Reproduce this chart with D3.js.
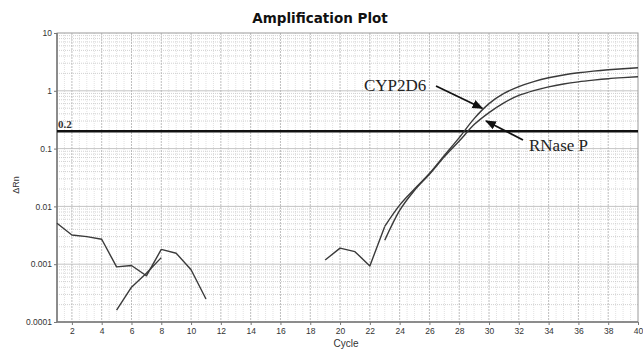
<!DOCTYPE html>
<html>
<head>
<meta charset="utf-8">
<script src="https://cdn.jsdelivr.net/npm/d3@7"></script>
<style>
  body { margin: 0; background: #fff; }
  svg { display: block; }
</style>
</head>
<body>
<svg id="chart" width="643" height="350"></svg>
<script>
// cycle numbers and delta Rn readings
var noiseCycles = [1, 2, 3, 4, 5, 6, 7, 8, 9, 10, 11],
    noiseVals = [0.0051, 0.0032, 0.003, 0.0027, 0.0009, 0.00095, 0.00063, 0.0018, 0.00155, 0.0008, 0.00025],
    noise2Cycles = [5, 6, 7, 8],
    noise2Vals = [0.00016, 0.0004, 0.0007, 0.0013],
    cypNoiseCycles = [19, 20, 21, 22, 23],
    cypNoiseVals = [0.00118, 0.0019, 0.00165, 0.00093, 0.0045],
    cypCycles = [23, 24, 25, 26, 27, 28, 29, 30, 31, 32, 33, 34, 35, 36, 37, 38, 39, 40],
    cypVals = [0.0045, 0.0105, 0.02, 0.037, 0.076, 0.155, 0.33, 0.6, 0.9, 1.18, 1.44, 1.68,
               1.88, 2.05, 2.19, 2.31, 2.41, 2.5],
    rnpCycles = [23, 24, 25, 26, 27, 28, 29, 30, 31, 32, 33, 34, 35, 36, 37, 38, 39, 40],
    rnpVals = [0.0026, 0.0085, 0.019, 0.036, 0.072, 0.135, 0.26, 0.42, 0.62, 0.83, 1.01, 1.17,
               1.31, 1.43, 1.53, 1.62, 1.69, 1.75],
    threshold = 0.2,
    xTicks = d3.range(2, 41, 2),
    yTicks = [10, 1, 0.1, 0.01, 0.001, 0.0001],
    yTickLabels = ["10", "1", "0.1", "0.01", "0.001", "0.0001"];

// note: "top" is taken by window.top, so plot edges get a p prefix
var svg = d3.select("#chart"),
    pLeft = 57, pRight = 638, pTop = 33, pBottom = 322;

var x = d3.scaleLinear().domain([1, 40]).range([pLeft, pRight]),
    y = d3.scaleLog().domain([0.0001, 10]).range([pBottom, pTop]);

var grid = svg.append("g");

// minor vertical grid
grid.selectAll(".vmin")
    .data(d3.range(1.5, 40, 0.5).filter(function (d) { return d % 2 != 0; }))
    .enter().append("line")
    .attr("x1", function (d) { return x(d); }).attr("x2", function (d) { return x(d); })
    .attr("y1", pTop).attr("y2", pBottom)
    .attr("stroke", "#d6d6d6").attr("stroke-width", 0.7).attr("stroke-dasharray", "1,1");

// minor horizontal grid (log 2..9 of each decade)
var minorY = [];
[-4, -3, -2, -1, 0].forEach(function (e) {
    for (var m = 2; m <= 9; m++) minorY.push(m * Math.pow(10, e));
});
grid.selectAll(".hmin")
    .data(minorY)
    .enter().append("line")
    .attr("x1", pLeft).attr("x2", pRight)
    .attr("y1", function (d) { return y(d); }).attr("y2", function (d) { return y(d); })
    .attr("stroke", "#bdbdbd").attr("stroke-width", 0.7).attr("stroke-dasharray", "1,1");

// major vertical grid every 2 cycles
grid.selectAll(".vmaj")
    .data(xTicks.filter(function (d) { return d < 40; }))
    .enter().append("line")
    .attr("x1", function (d) { return x(d); }).attr("x2", function (d) { return x(d); })
    .attr("y1", pTop).attr("y2", pBottom)
    .attr("stroke", "#adadad").attr("stroke-width", 0.8).attr("stroke-dasharray", "2,1");

// decade lines
grid.selectAll(".hmaj")
    .data(yTicks.slice(1, 5))
    .enter().append("line")
    .attr("x1", pLeft).attr("x2", pRight)
    .attr("y1", function (d) { return y(d); }).attr("y2", function (d) { return y(d); })
    .attr("stroke", "#b5b5b5").attr("stroke-width", 0.8);

// frame
svg.append("rect")
    .attr("x", pLeft).attr("y", pTop)
    .attr("width", pRight - pLeft).attr("height", pBottom - pTop)
    .attr("fill", "none").attr("stroke", "#9a9a9a").attr("stroke-width", 1);
svg.append("line")
    .attr("x1", pLeft).attr("x2", pLeft).attr("y1", pTop).attr("y2", pBottom)
    .attr("stroke", "#777").attr("stroke-width", 1.5);
svg.append("line")
    .attr("x1", pLeft).attr("x2", pRight).attr("y1", pBottom).attr("y2", pBottom)
    .attr("stroke", "#777").attr("stroke-width", 1.5);

// axes
var xAxis = svg.append("g")
    .attr("transform", "translate(0," + pBottom + ")")
    .call(d3.axisBottom(x).tickValues(xTicks).tickSize(3).tickPadding(3));
var yAxis = svg.append("g")
    .attr("transform", "translate(" + pLeft + ",0)")
    .call(d3.axisLeft(y).tickValues(yTicks).tickSize(3).tickPadding(2)
        .tickFormat(function (d, i) { return yTickLabels[i]; }));
[xAxis, yAxis].forEach(function (a) {
    a.select(".domain").remove();
    a.selectAll("line").attr("stroke", "#777");
    a.selectAll("text")
        .attr("fill", "#333")
        .style("font-family", "'Liberation Sans', Arial, sans-serif")
        .style("font-size", "8.5px");
});

// threshold
svg.append("line")
    .attr("x1", pLeft).attr("x2", pRight)
    .attr("y1", y(threshold)).attr("y2", y(threshold))
    .attr("stroke", "#111").attr("stroke-width", 2.6);
svg.append("text")
    .attr("x", pLeft + 1).attr("y", y(threshold) - 3)
    .style("font-family", "'Liberation Serif', 'Times New Roman', serif")
    .style("font-size", "11px").style("font-weight", "bold")
    .attr("fill", "#333")
    .text("0.2");

// curves: noise as straight segments, amplification as smooth curves
var line = d3.line()
    .x(function (d) { return x(d[0]); })
    .y(function (d) { return y(d[1]); });
var smooth = d3.line()
    .curve(d3.curveMonotoneX)
    .x(function (d) { return x(d[0]); })
    .y(function (d) { return y(d[1]); });

function zip(a, b) { return a.map(function (v, i) { return [v, b[i]]; }); }

[[noiseCycles, noiseVals, line], [noise2Cycles, noise2Vals, line], [cypNoiseCycles, cypNoiseVals, line],
 [cypCycles, cypVals, smooth], [rnpCycles, rnpVals, smooth]]
    .forEach(function (s) {
        svg.append("path")
            .datum(zip(s[0], s[1]))
            .attr("d", s[2])
            .attr("fill", "none")
            .attr("stroke", "#3a3a3a")
            .attr("stroke-width", 1.4)
            .attr("stroke-linejoin", "round");
    });

// arrow marker
svg.append("defs").append("marker")
    .attr("id", "arr")
    .attr("viewBox", "0 0 10 10")
    .attr("refX", 9).attr("refY", 5)
    .attr("markerWidth", 6).attr("markerHeight", 6)
    .attr("orient", "auto")
    .append("path").attr("d", "M0,1L10,5L0,9Z").attr("fill", "#111");

var serif = "'Liberation Serif', 'Times New Roman', serif";

// CYP2D6 label
svg.append("text")
    .attr("x", 364).attr("y", 91)
    .style("font-family", serif).style("font-size", "17px")
    .attr("fill", "#222").text("CYP2D6");
svg.append("line")
    .attr("x1", 436).attr("y1", 86)
    .attr("x2", x(29.55)).attr("y2", y(0.5))
    .attr("stroke", "#111").attr("stroke-width", 1.8)
    .attr("marker-end", "url(#arr)");

// RNase P label
svg.append("text")
    .attr("x", 529).attr("y", 151)
    .style("font-family", serif).style("font-size", "17px")
    .attr("fill", "#222").text("RNase P");
svg.append("line")
    .attr("x1", 523).attr("y1", 140)
    .attr("x2", x(29.8)).attr("y2", y(0.3))
    .attr("stroke", "#111").attr("stroke-width", 1.8)
    .attr("marker-end", "url(#arr)");

// title and axis labels
svg.append("text")
    .attr("x", 320).attr("y", 23)
    .attr("text-anchor", "middle")
    .style("font-family", "'DejaVu Sans', Verdana, sans-serif")
    .style("font-size", "13.5px").style("font-weight", "bold")
    .attr("fill", "#111")
    .text("Amplification Plot");

svg.append("text")
    .attr("x", 346).attr("y", 347)
    .attr("text-anchor", "middle")
    .style("font-family", "'Liberation Sans', Arial, sans-serif")
    .style("font-size", "10px")
    .attr("fill", "#333")
    .text("Cycle");

svg.append("text")
    .attr("transform", "translate(19,185) rotate(-90)")
    .attr("text-anchor", "middle")
    .style("font-family", "'Liberation Sans', Arial, sans-serif")
    .style("font-size", "9px")
    .attr("fill", "#333")
    .text("ΔRn");
</script>
</body>
</html>
